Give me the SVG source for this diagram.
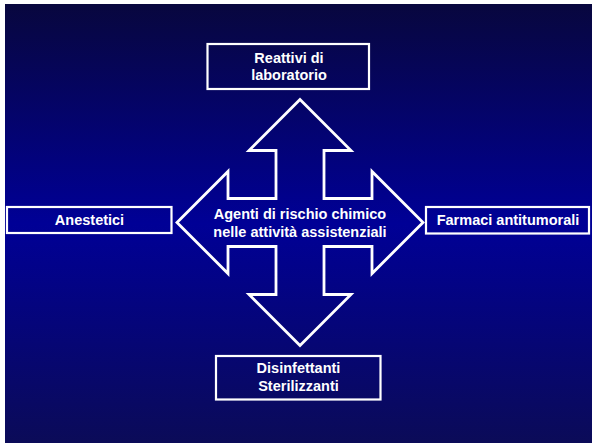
<svg xmlns="http://www.w3.org/2000/svg" width="592" height="445" viewBox="0 0 592 445">
<defs>
<linearGradient id="bg" x1="0" y1="0" x2="0" y2="1">
<stop offset="0" stop-color="#08073e"/>
<stop offset="0.5" stop-color="#000096"/>
<stop offset="1" stop-color="#0b0b58"/>
</linearGradient>
<style>
.box{fill:none;stroke:#ffffff;stroke-width:2.2}
.arrow{fill:none;stroke:#ffffff;stroke-width:2.8;stroke-linejoin:miter}
.t{font-family:"Liberation Sans",Arial,Helvetica,sans-serif;font-weight:bold;font-size:14.5px;fill:#ffffff;text-anchor:middle}
</style>
</defs>
<rect x="0" y="0" width="592" height="445" fill="#ffffff"/>
<rect x="5" y="4" width="587" height="439" fill="url(#bg)"/>
<g id="center">
<polygon class="arrow" points="300,99.5 351,150.5 324,150.5 324,198.5 372,198.5 372,171.5 423,222.5 372,273.5 372,246.5 324,246.5 324,294.5 351,294.5 300,345.5 249,294.5 276,294.5 276,246.5 228,246.5 228,273.5 177,222.5 228,171.5 228,198.5 276,198.5 276,150.5 249,150.5"/>
<text class="t" x="300" y="219.3">Agenti di rischio chimico</text>
<text class="t" x="300" y="236.7">nelle attività assistenziali</text>
</g>
<g id="connectors"></g>
<g id="reattivi">
<rect class="box" x="207.5" y="44" width="161.5" height="45"/>
<text class="t" x="289" y="62.5">Reattivi di</text>
<text class="t" x="289" y="79.8">laboratorio</text>
</g>
<g id="anestetici">
<rect class="box" x="7" y="207" width="164.5" height="26"/>
<text class="t" x="89.5" y="224.5">Anestetici</text>
</g>
<g id="farmaci">
<rect class="box" x="426" y="207" width="163" height="26.5"/>
<text class="t" x="508" y="224.5">Farmaci antitumorali</text>
</g>
<g id="disinfettanti">
<rect class="box" x="216" y="356" width="164.5" height="43.5"/>
<text class="t" x="298.5" y="373.3">Disinfettanti</text>
<text class="t" x="298.5" y="390.5">Sterilizzanti</text>
</g>
</svg>
